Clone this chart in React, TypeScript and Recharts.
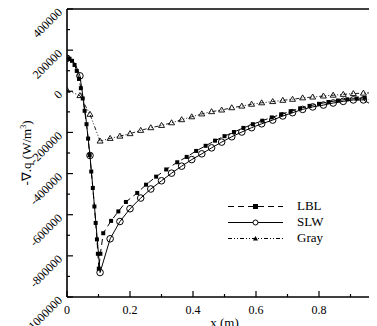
import React from 'react';
import { LineChart, Line, XAxis, YAxis, ReferenceLine } from 'recharts';

const lblData = [
  { x: 0, y: 160000 }, { x: 0.008, y: 158000 }, { x: 0.016, y: 148000 }, { x: 0.024, y: 128000 },
  { x: 0.031, y: 99000 }, { x: 0.038, y: 60000 }, { x: 0.044, y: 15000 }, { x: 0.05, y: -35000 },
  { x: 0.056, y: -95000 }, { x: 0.062, y: -160000 }, { x: 0.067, y: -230000 }, { x: 0.072, y: -310000 },
  { x: 0.077, y: -390000 }, { x: 0.082, y: -470000 }, { x: 0.087, y: -560000 }, { x: 0.091, y: -640000 },
  { x: 0.095, y: -720000 }, { x: 0.098, y: -790000 }, { x: 0.101, y: -862000 }, { x: 0.106, y: -790000 },
  { x: 0.115, y: -690000 }, { x: 0.14, y: -630000 }, { x: 0.163, y: -584000 }, { x: 0.187, y: -538000 },
  { x: 0.223, y: -494000 }, { x: 0.251, y: -454000 }, { x: 0.283, y: -415000 }, { x: 0.315, y: -380000 },
  { x: 0.35, y: -345000 }, { x: 0.38, y: -319000 }, { x: 0.41, y: -290000 }, { x: 0.44, y: -265000 },
  { x: 0.47, y: -240000 }, { x: 0.5, y: -218000 }, { x: 0.53, y: -198000 }, { x: 0.56, y: -178000 },
  { x: 0.59, y: -160000 }, { x: 0.62, y: -143000 }, { x: 0.65, y: -127000 }, { x: 0.68, y: -112000 },
  { x: 0.71, y: -97000 }, { x: 0.74, y: -83000 }, { x: 0.77, y: -71000 }, { x: 0.8, y: -61000 },
  { x: 0.83, y: -52000 }, { x: 0.86, y: -45000 }, { x: 0.89, y: -39000 }, { x: 0.92, y: -35000 },
  { x: 0.945, y: -32000 }, { x: 0.972, y: -45000 },
];

const slwData = [
  { x: 0, y: 160000 }, { x: 0.01, y: 157000 }, { x: 0.02, y: 146000 }, { x: 0.03, y: 118000 },
  { x: 0.041, y: 75000 }, { x: 0.05, y: -20000 }, { x: 0.06, y: -130000 }, { x: 0.073, y: -312000 },
  { x: 0.085, y: -520000 }, { x: 0.095, y: -700000 }, { x: 0.105, y: -881000 }, { x: 0.137, y: -717000 },
  { x: 0.168, y: -633000 }, { x: 0.2, y: -571000 }, { x: 0.234, y: -519000 }, { x: 0.266, y: -475000 },
  { x: 0.3, y: -435000 }, { x: 0.332, y: -398000 }, { x: 0.364, y: -364000 }, { x: 0.396, y: -332000 },
  { x: 0.428, y: -304000 }, { x: 0.459, y: -275000 }, { x: 0.491, y: -247000 }, { x: 0.523, y: -221000 },
  { x: 0.555, y: -198000 }, { x: 0.586, y: -177000 }, { x: 0.618, y: -158000 }, { x: 0.653, y: -140000 },
  { x: 0.685, y: -120000 }, { x: 0.716, y: -104000 }, { x: 0.748, y: -88000 }, { x: 0.78, y: -76000 },
  { x: 0.814, y: -67000 }, { x: 0.845, y: -57000 }, { x: 0.877, y: -49000 }, { x: 0.909, y: -42000 },
  { x: 0.941, y: -42000 }, { x: 0.975, y: -72000 },
];
const slwMarkerX = [0, 0.041, 0.073, 0.105, 0.137, 0.168, 0.2, 0.234, 0.266, 0.3, 0.332, 0.364, 0.396,
  0.428, 0.459, 0.491, 0.523, 0.555, 0.586, 0.618, 0.653, 0.685, 0.716, 0.748, 0.78, 0.814, 0.845,
  0.877, 0.909, 0.941, 0.975];

const grayData = [
  { x: 0, y: 5000 }, { x: 0.041, y: -21000 }, { x: 0.073, y: -112000 }, { x: 0.105, y: -242000 },
  { x: 0.137, y: -229000 }, { x: 0.168, y: -218000 }, { x: 0.2, y: -206000 }, { x: 0.234, y: -190000 },
  { x: 0.266, y: -177000 }, { x: 0.3, y: -166000 }, { x: 0.332, y: -153000 }, { x: 0.364, y: -138000 },
  { x: 0.396, y: -124000 }, { x: 0.428, y: -110000 }, { x: 0.459, y: -99000 }, { x: 0.491, y: -91000 },
  { x: 0.523, y: -80000 }, { x: 0.555, y: -72000 }, { x: 0.586, y: -63000 }, { x: 0.618, y: -56000 },
  { x: 0.653, y: -50000 }, { x: 0.685, y: -44000 }, { x: 0.716, y: -39000 }, { x: 0.748, y: -32000 },
  { x: 0.78, y: -28000 }, { x: 0.814, y: -23000 }, { x: 0.845, y: -19000 }, { x: 0.877, y: -15000 },
  { x: 0.909, y: -11000 }, { x: 0.941, y: -9000 }, { x: 0.975, y: -7000 },
];

const xTicks = [0, 0.1, 0.2, 0.3, 0.4, 0.5, 0.6, 0.7, 0.8, 0.9, 1];
const xMajor = [0, 0.2, 0.4, 0.6, 0.8];
const xLabels = ['0', '0.2', '0.4', '0.6', '0.8'];
const yTicks = [-1000000, -900000, -800000, -700000, -600000, -500000, -400000, -300000, -200000,
  -100000, 0, 100000, 200000, 300000, 400000];
const yMajor = [-1000000, -800000, -600000, -400000, -200000, 0, 200000, 400000];
const yLabels = ['-1000000', '-800000', '-600000', '-400000', '-200000', '0', '200000', '400000'];

const seriesNames = ['LBL', 'SLW', 'Gray'];

const FONT = '"Liberation Serif", "Times New Roman", serif';

const near = (a: number, b: number) => Math.abs(a - b) < 1e-6;

const XTick = (props: any) => {
  const { x, y, payload } = props;
  const idx = xMajor.findIndex((v) => near(v, payload.value));
  const major = idx >= 0 || near(payload.value, 1);
  return (
    <g>
      <line x1={x} y1={y} x2={x} y2={y - (major ? 6 : 3)} stroke="#000" strokeWidth={1.2} />
      {idx >= 0 && (
        <text x={x} y={y + 17} textAnchor="middle" fontSize={12} fontFamily={FONT} fill="#000">
          {xLabels[idx]}
        </text>
      )}
    </g>
  );
};

const YTick = (props: any) => {
  const { x, y, payload } = props;
  const idx = yMajor.findIndex((v) => near(v, payload.value));
  const major = idx >= 0;
  const ax = x - 4;
  const ay = y + 4;
  return (
    <g>
      <line x1={x} y1={y} x2={x + (major ? 6 : 3)} y2={y} stroke="#000" strokeWidth={1.2} />
      {major && (
        <text x={ax} y={ay} textAnchor="end" fontSize={12} fontFamily={FONT} fill="#000"
          transform={`rotate(-45, ${ax}, ${ay})`}>
          {yLabels[idx]}
        </text>
      )}
    </g>
  );
};

const SlwDot = (props: any) => {
  const { cx, cy, payload, index } = props;
  if (!slwMarkerX.some((v) => near(v, payload.x))) return <g key={`s${index}`} />;
  return <circle key={`s${index}`} cx={cx} cy={cy} r={3.3} fill="none" stroke="#000" strokeWidth={1} />;
};

const LblDot = (props: any) => {
  const { cx, cy, index } = props;
  return <rect key={`l${index}`} x={cx - 2} y={cy - 2} width={4} height={4} fill="#000" />;
};

const GrayDot = (props: any) => {
  const { cx, cy, index } = props;
  return (
    <path key={`g${index}`} d={`M${cx},${cy - 3} L${cx + 3},${cy + 2} L${cx - 3},${cy + 2} Z`}
      fill="none" stroke="#000" strokeWidth={0.9} />
  );
};

const LegendBox = () => {
  const rows = [
    { name: seriesNames[0], dash: '6 4', marker: <rect x={25} y={4} width={5} height={5} fill="#000" /> },
    { name: seriesNames[1], dash: undefined, marker: <circle cx={27.5} cy={6.5} r={2.5} fill="#fff" stroke="#000" /> },
    { name: seriesNames[2], dash: '4 2 1 2 1 2', marker: <path d="M27.5,4 L30,8.5 L25,8.5 Z" fill="#000" /> },
  ];
  return (
    <div style={{ position: 'absolute', left: 220, top: 190, fontFamily: FONT, fontSize: 13, color: '#000' }}>
      {rows.map((r) => (
        <div key={r.name} style={{ display: 'flex', alignItems: 'center', height: 16 }}>
          <svg width={55} height={13} style={{ display: 'block' }}>
            <line x1={0} y1={6.5} x2={55} y2={6.5} stroke="#000" strokeWidth={1} strokeDasharray={r.dash} />
            {r.marker}
          </svg>
          <span style={{ marginLeft: 14, lineHeight: '16px' }}>{r.name}</span>
        </div>
      ))}
    </div>
  );
};

export default function App() {
  return (
    <div style={{ position: 'relative', width: 369, height: 318, overflow: 'hidden' }}>
      <LineChart width={380} height={318} margin={{ top: 1, right: 6, left: 0, bottom: 0 }}>
        <XAxis
          dataKey="x"
          type="number"
          domain={[0, 1]}
          ticks={xTicks}
          interval={0}
          tickSize={0}
          tickMargin={0}
          tickLine={false}
          height={29}
          allowDataOverflow
          axisLine={{ stroke: '#000', strokeWidth: 1.6 }}
          tick={<XTick />}
          label={({ viewBox }: any) => (
            <text x={viewBox.x + viewBox.width / 2} y={viewBox.y + 30} textAnchor="middle"
              fontSize={13} fontFamily={FONT} fill="#000">x (m)</text>
          )}
        />
        <YAxis
          type="number"
          domain={[-1000000, 400000]}
          ticks={yTicks}
          interval={0}
          tickSize={0}
          tickMargin={0}
          tickLine={false}
          width={59}
          allowDataOverflow
          axisLine={{ stroke: '#000', strokeWidth: 1.6 }}
          tick={<YTick />}
          label={({ viewBox }: any) => {
            const cx = 23;
            const cy = viewBox.y + viewBox.height / 2;
            return (
              <text x={cx} y={cy} textAnchor="middle" fontSize={13} fontFamily={FONT} fill="#000"
                transform={`rotate(-90, ${cx}, ${cy})`}>
                -∇.q (W/m<tspan dy={-5} fontSize={8}>3</tspan><tspan dy={5}>)</tspan>
              </text>
            );
          }}
        />
        <ReferenceLine y={400000} stroke="#000" strokeWidth={1.6} ifOverflow="extendDomain" />
        <ReferenceLine x={1} stroke="#000" strokeWidth={1.6} ifOverflow="extendDomain" />
        <Line data={grayData} dataKey="y" name={seriesNames[2]} type="linear" stroke="#000" strokeWidth={0.9}
          strokeDasharray="4 2 1 2 1 2" dot={<GrayDot />} isAnimationActive={false} />
        <Line data={slwData} dataKey="y" name={seriesNames[1]} type="linear" stroke="#000" strokeWidth={1}
          dot={<SlwDot />} isAnimationActive={false} />
        <Line data={lblData} dataKey="y" name={seriesNames[0]} type="linear" stroke="#000" strokeWidth={1}
          strokeDasharray="6 4" dot={<LblDot />} isAnimationActive={false} />
      </LineChart>
      <LegendBox />
    </div>
  );
}
